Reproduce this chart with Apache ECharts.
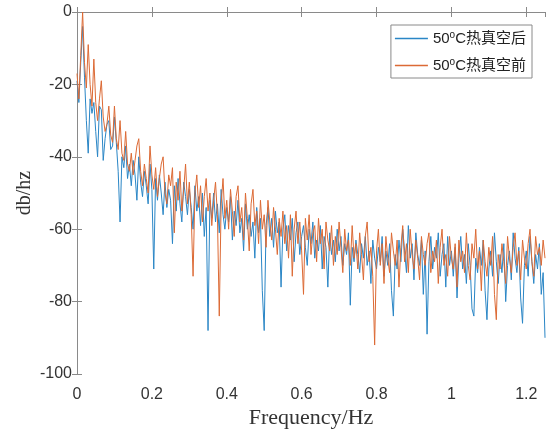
<!DOCTYPE html>
<html><head><meta charset="utf-8">
<script src="https://cdn.jsdelivr.net/npm/echarts@6/dist/echarts.min.js"></script>
<style>html,body{margin:0;padding:0;background:#fff}#c{width:546px;height:434px}</style>
</head><body><div id="c"></div>
<script>
const freqStep = 0.005;
const xTicks = [0, 0.2, 0.4, 0.6, 0.8, 1, 1.2];
const yTicks = [-100, -80, -60, -40, -20, 0];
const seriesNames = ['50{s|o}C热真空后', '50{s|o}C热真空前'];
const after = [
-19,-25,-14,-4,-18,-30,-39,-24,-28,-25,
-33,-40,-26,-27,-41,-35,-31,-30,-38,-37,
-29,-36,-44,-58,-40,-43,-37,-46,-42,-48,
-41,-45,-52,-40,-47,-51,-44,-48,-53,-42,
-49,-71,-46,-52,-45,-50,-56,-47,-54,-49,
-52,-64,-48,-55,-46,-53,-58,-47,-51,-56,
-49,-54,-60,-48,-55,-51,-59,-50,-62,-54,
-88,-52,-57,-50,-58,-53,-61,-49,-56,-60,
-54,-58,-51,-63,-55,-59,-52,-61,-57,-66,
-53,-60,-56,-62,-58,-68,-54,-61,-57,-77,
-88,-59,-54,-62,-57,-65,-55,-61,-58,-76,
-60,-56,-66,-59,-63,-57,-69,-61,-58,-67,
-62,-59,-65,-70,-60,-64,-58,-68,-63,-66,
-59,-71,-62,-65,-76,-61,-67,-63,-69,-60,
-66,-62,-70,-64,-67,-61,-81,-65,-69,-63,
-67,-72,-64,-68,-62,-70,-66,-75,-63,-68,
-71,-65,-69,-62,-73,-66,-70,-64,-77,-84,
-67,-71,-63,-69,-60,-66,-72,-59,-68,-64,
-74,-61,-67,-70,-63,-78,-66,-89,-69,-62,
-71,-65,-68,-61,-73,-67,-64,-76,-62,-70,
-66,-73,-65,-79,-68,-62,-71,-67,-75,-64,
-70,-82,-84,-68,-72,-65,-70,-63,-77,-85,
-71,-66,-73,-61,-69,-75,-67,-72,-64,-80,
-70,-66,-74,-61,-68,-72,-65,-79,-86,-70,
-66,-73,-62,-69,-75,-67,-71,-64,-78,-72,
-90];
const before = [
-17,-24,-12,0,-14,-21,-9,-20,-26,-13,
-25,-30,-24,-19,-29,-33,-31,-26,-34,-36,
-26,-35,-38,-30,-39,-41,-33,-42,-44,-39,
-45,-41,-37,-35,-44,-48,-42,-46,-50,-37,
-45,-49,-43,-51,-46,-42,-40,-50,-53,-45,
-48,-43,-61,-47,-52,-44,-55,-49,-42,-53,
-47,-56,-73,-50,-45,-54,-48,-58,-51,-46,
-55,-50,-59,-52,-47,-56,-84,-53,-46,-57,
-52,-60,-49,-55,-62,-51,-48,-58,-54,-63,
-50,-57,-66,-53,-49,-59,-55,-64,-52,-60,
-56,-65,-52,-58,-63,-54,-60,-67,-57,-62,
-55,-64,-59,-68,-56,-73,-60,-55,-64,-58,
-66,-78,-57,-63,-56,-67,-61,-59,-69,-57,
-64,-60,-71,-58,-63,-66,-59,-70,-62,-67,
-58,-65,-72,-60,-66,-63,-70,-59,-68,-64,
-71,-61,-67,-74,-62,-58,-69,-65,-73,-92,
-66,-60,-70,-64,-75,-62,-68,-72,-61,-66,
-70,-63,-76,-65,-59,-69,-64,-72,-60,-67,
-71,-63,-68,-74,-62,-67,-70,-64,-61,-72,
-66,-69,-63,-75,-65,-60,-70,-67,-73,-62,
-68,-71,-64,-76,-63,-69,-66,-72,-61,-70,
-74,-64,-68,-60,-71,-66,-77,-63,-69,-73,
-65,-70,-62,-78,-85,-67,-71,-64,-69,-75,
-62,-68,-72,-65,-61,-70,-66,-74,-63,-68,
-71,-64,-60,-69,-73,-62,-67,-65,-70,-63,
-68];

const pairs = arr => arr.map((v, i) => [+(i * freqStep).toFixed(4), v]);
const frameColor = '#8a8a8a';
const labelColor = '#333';
const chart = echarts.init(document.getElementById('c'), null, {renderer: 'canvas'});
const xCommon = {type: 'value', min: xTicks[0], max: 1.25, interval: 0.2,
  splitLine: {show: false}, axisLine: {show: true, lineStyle: {color: frameColor, width: 1}},
  axisTick: {show: true, inside: true, length: 5, lineStyle: {color: frameColor}}};
const yCommon = {type: 'value', min: yTicks[0], max: yTicks[yTicks.length-1], interval: 20,
  splitLine: {show: false}, axisLine: {show: true, lineStyle: {color: frameColor, width: 1}},
  axisTick: {show: true, inside: true, length: 5, lineStyle: {color: frameColor}}};
chart.setOption({
  animation: false,
  backgroundColor: '#fff',
  grid: {left: 77, right: 1, top: 12, bottom: 59, containLabel: false},
  legend: {
    orient: 'vertical', right: 14, top: 25,
    data: [{name: seriesNames[0]}, {name: seriesNames[1]}],
    icon: 'rect', itemWidth: 33, itemHeight: 1.5, itemGap: 10,
    padding: [5, 6, 4, 4],
    backgroundColor: '#fff', borderColor: '#8a8a8a', borderWidth: 1, borderRadius: 0,
    textStyle: {fontSize: 15, color: '#222', fontFamily: 'Liberation Sans, Arial, "Noto Sans CJK SC", sans-serif',
      lineHeight: 17,
      rich: {s: {fontSize: 10, padding: [0, 0, 7, 0], color: '#222', fontFamily: 'Liberation Sans, Arial, sans-serif'}}}
  },
  xAxis: [
    Object.assign({}, xCommon, {position: 'bottom',
      name: 'Frequency/Hz', nameLocation: 'middle', nameGap: 33, nameMoveOverlap: false,
      nameTextStyle: {fontFamily: 'Liberation Serif, Times New Roman, serif', fontSize: 22, color: labelColor},
      axisLabel: {show: true, margin: 13, fontSize: 16, color: labelColor, showMaxLabel: false,
        fontFamily: 'Liberation Sans, Arial, sans-serif'}}),
    Object.assign({}, xCommon, {position: 'top', axisLabel: {show: false}})
  ],
  yAxis: [
    Object.assign({}, yCommon, {position: 'left',
      name: 'db/hz', nameLocation: 'middle', nameGap: 42, nameMoveOverlap: false,
      nameTextStyle: {fontFamily: 'Liberation Serif, Times New Roman, serif', fontSize: 20, color: labelColor},
      axisLabel: {show: true, margin: 5, fontSize: 16, color: labelColor,
        fontFamily: 'Liberation Sans, Arial, sans-serif'}}),
    Object.assign({}, yCommon, {position: 'right', axisLabel: {show: false}})
  ],
  series: [
    {name: seriesNames[0], type: 'line', data: pairs(after), showSymbol: false, symbol: 'none',
      lineStyle: {width: 1, color: '#2a86c6'}, itemStyle: {color: '#2a86c6'}, emphasis: {disabled: true}},
    {name: seriesNames[1], type: 'line', data: pairs(before), showSymbol: false, symbol: 'none',
      lineStyle: {width: 1, color: '#dc6a35'}, itemStyle: {color: '#dc6a35'}, emphasis: {disabled: true}}
  ]
});
</script></body></html>
